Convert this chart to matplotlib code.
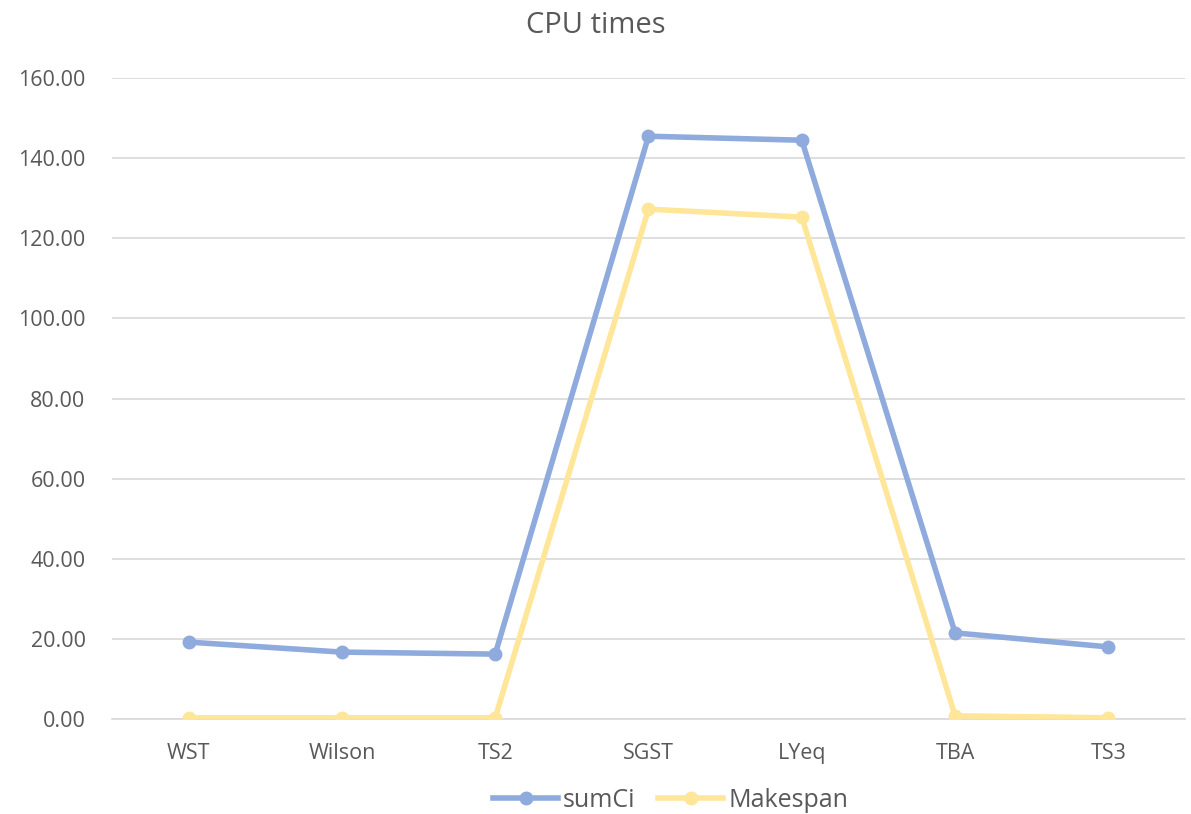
import matplotlib
matplotlib.use("Agg")
import matplotlib.pyplot as plt
from matplotlib.ticker import FormatStrFormatter

plt.rcParams['font.family'] = ['Open Sans', 'DejaVu Sans']

# chart data
categories = ["WST", "Wilson", "TS2", "SGST", "LYeq", "TBA", "TS3"]
sumci = [19.2, 16.7, 16.2, 145.5, 144.5, 21.5, 18.0]
makespan = [0.3, 0.3, 0.3, 127.3, 125.3, 0.8, 0.3]

text_color = "#595959"

fig = plt.figure(figsize=(11.91, 8.14), dpi=100)
ax = fig.add_axes([0.094, 0.1167, 0.901, 0.7873])

x = range(len(categories))
ax.plot(x, sumci, color="#8FAADC", lw=4, marker="o", ms=9, label="sumCi",
        solid_joinstyle="round", zorder=3)
ax.plot(x, makespan, color="#FFE699", lw=4, marker="o", ms=9, label="Makespan",
        solid_joinstyle="round", zorder=3)

ax.set_xlim(-0.5, len(categories) - 0.5)
ax.set_ylim(0, 160)
ax.set_yticks(range(0, 161, 20))
ax.yaxis.set_major_formatter(FormatStrFormatter("%.2f"))
ax.set_xticks(list(x))
ax.set_xticklabels(categories)
ax.grid(axis="y", color="#D9D9D9", lw=1.2)
ax.set_axisbelow(True)
for s in ax.spines.values():
    s.set_visible(False)
ax.spines["bottom"].set_visible(True)
ax.spines["bottom"].set_color("#D9D9D9")
ax.spines["bottom"].set_linewidth(1.2)
ax.tick_params(length=0, labelsize=15.5, labelcolor=text_color)
ax.tick_params(axis="x", pad=17)
ax.tick_params(axis="y", pad=19)

fig.suptitle("CPU times", y=0.987, fontsize=21, color=text_color)
fig.legend(loc="lower center", bbox_to_anchor=(0.563, -0.026), ncol=2,
           frameon=False, fontsize=18, labelcolor=text_color,
           handlelength=2.6, columnspacing=0.9, handletextpad=0.2)

fig.savefig("out.png", dpi=100)
